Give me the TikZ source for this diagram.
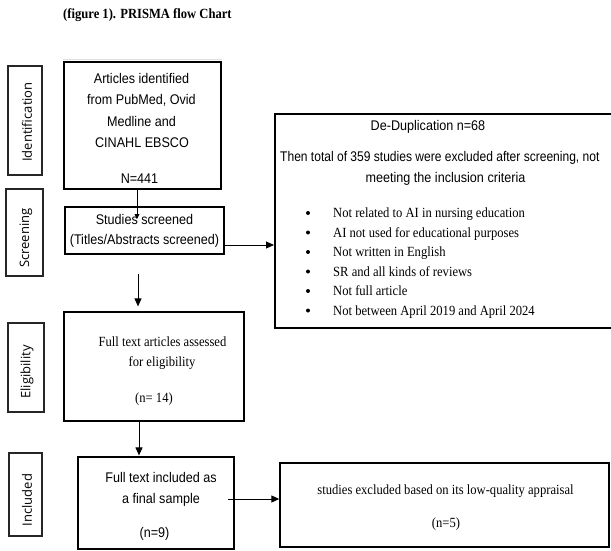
\documentclass[tikz,border=0pt]{standalone}
\usepackage{fontspec}
\setmainfont{Liberation Serif}[FakeStretch=0.9]
\setsansfont{Liberation Sans}[FakeStretch=0.9]
\newfontfamily\labfont{Open Sans}
\newfontfamily\narrowsans{Liberation Sans}[FakeStretch=0.86]
\usetikzlibrary{arrows.meta}
\tikzset{
  box/.style={draw=black, line width=1.2pt, rectangle, inner sep=0pt},
  thickbox/.style={draw=black, line width=2pt, rectangle, inner sep=0pt},
  sidebox/.style={draw=black!85, line width=1.1pt, rectangle, inner sep=0pt},
  sidetext/.style={font=\labfont\fontsize{13}{15}\selectfont, rotate=90, anchor=center, inner sep=0pt},
  sanstxt/.style={font=\sffamily\fontsize{14}{16}\selectfont, anchor=base, inner sep=0pt},
  seriftxt/.style={font=\rmfamily\fontsize{14}{16}\selectfont, anchor=base, inner sep=0pt},
  arr/.style={line width=1pt, -{Triangle[length=8pt,width=7pt]}},
  arrsmall/.style={line width=0.9pt, -{Triangle[length=5pt,width=5pt]}}
}
\begin{document}
\begin{tikzpicture}[x=1pt,y=-1pt]
\useasboundingbox (0,0) rectangle (611,551);
\clip (0,0) rectangle (611,551);
% title
\node[font=\rmfamily\bfseries\fontsize{14}{16}\selectfont, anchor=base west, inner sep=0pt] (title) at (63,19) {(figure 1). PRISMA flow Chart};
\draw[black!12, line width=0.6pt] (63,59) -- (222,59);

% side label boxes
\node[sidebox, minimum width=34pt, minimum height=109pt] (sIdent) at (25,120.5) {};
\node[sidetext] (lIdent) at (27,122) {Identification};
\node[sidebox, minimum width=37pt, minimum height=87pt] (sScreen) at (24.5,232.5) {};
\node[sidetext] (lScreen) at (26,238) {Screening};
\node[sidebox, minimum width=36pt, minimum height=89pt] (sElig) at (26,367.5) {};
\node[sidetext] (lElig) at (27,372) {Eligibility};
\node[sidebox, minimum width=33pt, minimum height=83pt] (sIncl) at (25.5,494.5) {};
\node[sidetext] (lIncl) at (27,500) {Included};

% main boxes
\node[box, minimum width=157pt, minimum height=127pt] (art) at (142.5,125.5) {};
\node[sanstxt] (art1) at (141.5,84) {Articles identified};
\node[sanstxt] (art2) at (141.5,105) {from PubMed, Ovid};
\node[sanstxt] (art3) at (141.5,126) {Medline and};
\node[sanstxt] (art4) at (142,147) {CINAHL EBSCO};
\node[sanstxt] (art5) at (139.5,183) {N=441};

\node[box, minimum width=159pt, minimum height=47pt] (scr) at (144.5,230.5) {};
\node[sanstxt] (scr1) at (144.5,224) {Studies screened};
\node[sanstxt] (scr2) at (144.5,244) {(Titles/Abstracts screened)};

\node[box, minimum width=180pt, minimum height=109pt] (elig) at (154,366.5) {};
\node[seriftxt] (el1) at (162.5,346.5) {Full text articles assessed};
\node[seriftxt] (el2) at (162,366.5) {for eligibility};
\node[seriftxt] (el3) at (154,402.5) {(n= 14)};

\node[box, minimum width=156pt, minimum height=92pt] (incl) at (156,503) {};
\node[sanstxt] (in1) at (161,482) {Full text included as};
\node[sanstxt] (in2) at (161,503) {a final sample};
\node[sanstxt] (in3) at (154.5,537) {(n=9)};

\node[thickbox, minimum width=345pt, minimum height=214pt] (dd) at (447.5,221) {};
\node[sanstxt] (dd1) at (428,130) {De-Duplication n=68};
\node[sanstxt, font=\narrowsans\fontsize{14}{16}\selectfont, anchor=base west] (dd2) at (280,161) {Then total of 359 studies were excluded after screening, not};
\node[sanstxt] (dd3) at (445.5,182) {meeting the inclusion criteria};
\foreach \yy/\tt [count=\i] in {213/{Not related to AI in nursing education},
  232.5/{AI not used for educational purposes},
  252/{Not written in English},
  271.5/{SR and all kinds of reviews},
  291/{Not full article},
  310.5/{Not between April 2019 and April 2024}}{
  \node[seriftxt, anchor=base west] (b\i) at (333,\yy+4.5) {\tt};
  \fill (308,\yy) circle (2pt);
}

\node[box, line width=1.4pt, minimum width=329pt, minimum height=84pt] (exc) at (444.5,505) {};
\node[seriftxt] (ex1) at (445.5,494.5) {studies excluded based on its low-quality appraisal};
\node[seriftxt] (ex2) at (446,527.5) {(n=5)};

% connectors
\coordinate (a1) at (137,219);
\draw[arrsmall] (art.south -| a1) -- (a1);
\coordinate (a2) at (224,245);
\draw[arr] (a2) -- (a2 -| dd.west);
\coordinate (a3) at (138,0);
\draw[arr, shorten <=19pt, shorten >=5pt] (scr.south -| a3) -- (elig.north -| a3);
\coordinate (a4) at (139,0);
\draw[arr, shorten >=1pt] (elig.south -| a4) -- (incl.north -| a4);
\coordinate (a5) at (228,499);
\draw[arr] (a5) -- (a5 -| exc.west);
\end{tikzpicture}
\end{document}
